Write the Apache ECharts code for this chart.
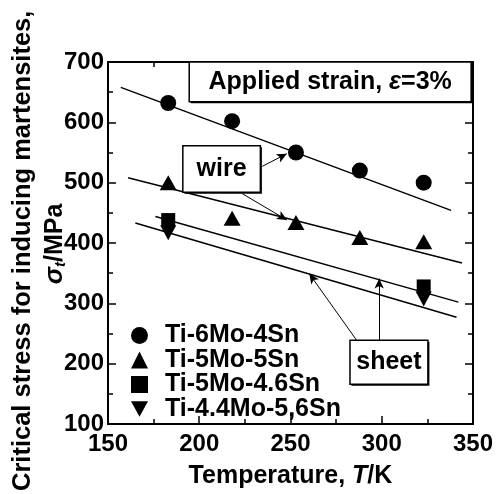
<!DOCTYPE html>
<html>
<head>
<meta charset="utf-8">
<script src="https://cdn.jsdelivr.net/npm/echarts@6/dist/echarts.min.js"></script>
<style>
  html, body { margin: 0; background: #fff; }
  #chartLine { width: 496px; height: 494px; }
</style>
</head>
<body>
<div id="chartLine"></div>
<script>
  // measured points (T in K, stress in MPa)
  var temps = [183, 218, 253, 288, 323];
  var ti6Mo4Sn = [632, 602, 550, 520, 500];
  var ti5Mo5Sn = [500, 441, 434, 409, 402];
  var tempsSheet = [183, 323];
  var ti5Mo46Sn = [438, 328];
  var ti44Mo56Sn = [417, 307];

  // fitted lines, two ends each
  var wireFitT1 = [157, 338], wireFit1 = [658, 454];
  var wireFitT2 = [161, 344], wireFit2 = [508, 367];
  var sheetFitT1 = [176, 342], sheetFit1 = [444, 302];
  var sheetFitT2 = [165, 341], sheetFit2 = [433, 277];

  var legendNames = ['Ti-6Mo-4Sn', 'Ti-5Mo-5Sn', 'Ti-5Mo-4.6Sn', 'Ti-4.4Mo-5,6Sn'];
  var invTri = 'path://M0,0 L10,0 L5,9 Z';
  var font = 'Liberation Sans, Arial, sans-serif';

  function pairs(xs, ys) {
    var out = [];
    for (let i = 0; i < xs.length; i++) {
      out.push([xs[i], ys[i]]);
    }
    return out;
  }

  function fitLine(xs, ys, arrows) {
    var s = {
      type: 'line',
      data: pairs(xs, ys),
      symbol: 'none',
      lineStyle: { color: '#000', width: 1.5 },
      silent: true,
      z: 1
    };
    if (arrows) {
      s.markLine = {
        silent: true,
        animation: false,
        symbol: ['none', 'arrow'],
        symbolSize: [7, 10],
        label: { show: false },
        lineStyle: { color: '#000', width: 1, type: 'solid' },
        data: arrows
      };
    }
    return s;
  }

  function arrow(x1, y1, x2, y2) {
    return [{ coord: [x1, y1] }, { coord: [x2, y2] }];
  }

  var axisCommon = {
    type: 'value',
    axisLine: { lineStyle: { color: '#000', width: 2 } },
    axisTick: { inside: true, length: 8, lineStyle: { color: '#000', width: 1.5 } },
    minorTick: { show: true, splitNumber: 2, length: 5, lineStyle: { color: '#000', width: 1.5 } },
    splitLine: { show: false }
  };

  var myChart = echarts.init(document.getElementById('chartLine'));
  myChart.setOption({
    animation: false,
    grid: { left: 108, right: 23, top: 62, bottom: 66 },
    xAxis: [
      Object.assign({}, axisCommon, {
        min: 150, max: 350, interval: 50,
        axisLabel: { color: '#000', fontSize: 24, fontWeight: 'bold', fontFamily: font, margin: 8 },
        name: 'Temperature, {i|T}/K',
        nameLocation: 'middle',
        nameGap: 40,
        nameTextStyle: {
          color: '#000', fontSize: 25, fontWeight: 'bold', fontFamily: font,
          rich: { i: { fontSize: 25, fontStyle: 'italic', fontWeight: 'bold', fontFamily: font, color: '#000' } }
        }
      }),
      Object.assign({}, axisCommon, {
        min: 150, max: 350, interval: 50, position: 'top',
        axisLabel: { show: false }
      })
    ],
    yAxis: [
      Object.assign({}, axisCommon, {
        min: 100, max: 700, interval: 100,
        axisLabel: { color: '#000', fontSize: 24, fontWeight: 'bold', fontFamily: font, margin: 4 }
      }),
      Object.assign({}, axisCommon, {
        min: 100, max: 700, interval: 100, position: 'right',
        axisLabel: { show: false }
      })
    ],
    legend: {
      orient: 'vertical',
      left: 126,
      top: 318,
      itemWidth: 17,
      itemHeight: 17,
      itemGap: -0.5,
      selectedMode: false,
      textStyle: {
        color: '#000', fontSize: 25, fontWeight: 'bold', fontFamily: font,
        padding: [0, 0, 0, 12]
      },
      data: [
        { name: legendNames[0], icon: 'circle' },
        { name: legendNames[1], icon: 'triangle' },
        { name: legendNames[2], icon: 'rect' },
        { name: legendNames[3], icon: invTri }
      ]
    },
    series: [
      fitLine(wireFitT1, wireFit1, [arrow(234.5, 527, 248, 548)]),
      fitLine(wireFitT2, wireFit2, [arrow(223.5, 482, 248, 438)]),
      fitLine(sheetFitT1, sheetFit1, [arrow(298.6, 239, 298.6, 341)]),
      fitLine(sheetFitT2, sheetFit2, [arrow(286.2, 239, 260.3, 349)]),
      {
        name: legendNames[0], type: 'scatter', data: pairs(temps, ti6Mo4Sn),
        symbol: 'circle', symbolSize: 16, itemStyle: { color: '#000', opacity: 1 }, z: 3
      },
      {
        name: legendNames[1], type: 'scatter', data: pairs(temps, ti5Mo5Sn),
        symbol: 'triangle', symbolSize: [17, 15], itemStyle: { color: '#000', opacity: 1 }, z: 3
      },
      {
        name: legendNames[2], type: 'scatter', data: pairs(tempsSheet, ti5Mo46Sn),
        symbol: 'rect', symbolSize: 14, itemStyle: { color: '#000', opacity: 1 }, z: 3
      },
      {
        name: legendNames[3], type: 'scatter', data: pairs(tempsSheet, ti44Mo56Sn),
        symbol: invTri, symbolSize: [16, 15], itemStyle: { color: '#000', opacity: 1 }, z: 3
      }
    ]
  });

  // annotation boxes placed in data coordinates
  function px(p) {
    return myChart.convertToPixel({ xAxisIndex: 0, yAxisIndex: 0 }, p);
  }
  function box(x1, y1, x2, y2, text, rich) {
    var a = px([x1, y1]), b = px([x2, y2]);
    var w = b[0] - a[0], h = b[1] - a[1];
    return [
      { type: 'rect', shape: { x: a[0] + 1.5, y: a[1] + 1.5, width: w, height: h }, style: { fill: '#000' }, z: 10 },
      { type: 'rect', shape: { x: a[0], y: a[1], width: w, height: h }, style: { fill: '#fff', stroke: '#000', lineWidth: 1.5 }, z: 11 },
      {
        type: 'text', x: a[0] + w / 2, y: a[1] + h / 2, z: 12,
        style: {
          text: text, fill: '#000', font: 'bold 25px ' + font,
          align: 'center', verticalAlign: 'middle', rich: rich || {}
        }
      }
    ];
  }

  var boxes = []
    .concat(box(194.5, 700, 349, 634, 'Applied strain, {e|ε}=3%', {
      e: { fontStyle: 'italic', fontWeight: 'bold', fontSize: 25, fontFamily: font, fill: '#000' }
    }))
    .concat(box(191, 561, 233.5, 484, 'wire'))
    .concat(box(282.6, 239, 325.3, 166, 'sheet'));

  // y axis title, two lines
  boxes.push({
    type: 'text', x: 23, y: 491, rotation: Math.PI / 2,
    style: {
      text: 'Critical stress for inducing martensites,', fill: '#000',
      font: 'bold 25.5px ' + font, align: 'left', verticalAlign: 'middle'
    }
  });
  boxes.push({
    type: 'text', x: 55, y: 244, rotation: Math.PI / 2,
    style: {
      text: '{s|σ}{t|t}{n|/MPa}', fill: '#000', align: 'center', verticalAlign: 'middle',
      rich: {
        s: { font: 'italic bold 26px ' + font, fill: '#000' },
        t: { font: 'italic bold 15px ' + font, fill: '#000', verticalAlign: 'bottom', padding: [10, 0, 0, 0] },
        n: { font: 'bold 25px ' + font, fill: '#000' }
      }
    }
  });

  myChart.setOption({ graphic: boxes });
</script>
</body>
</html>
